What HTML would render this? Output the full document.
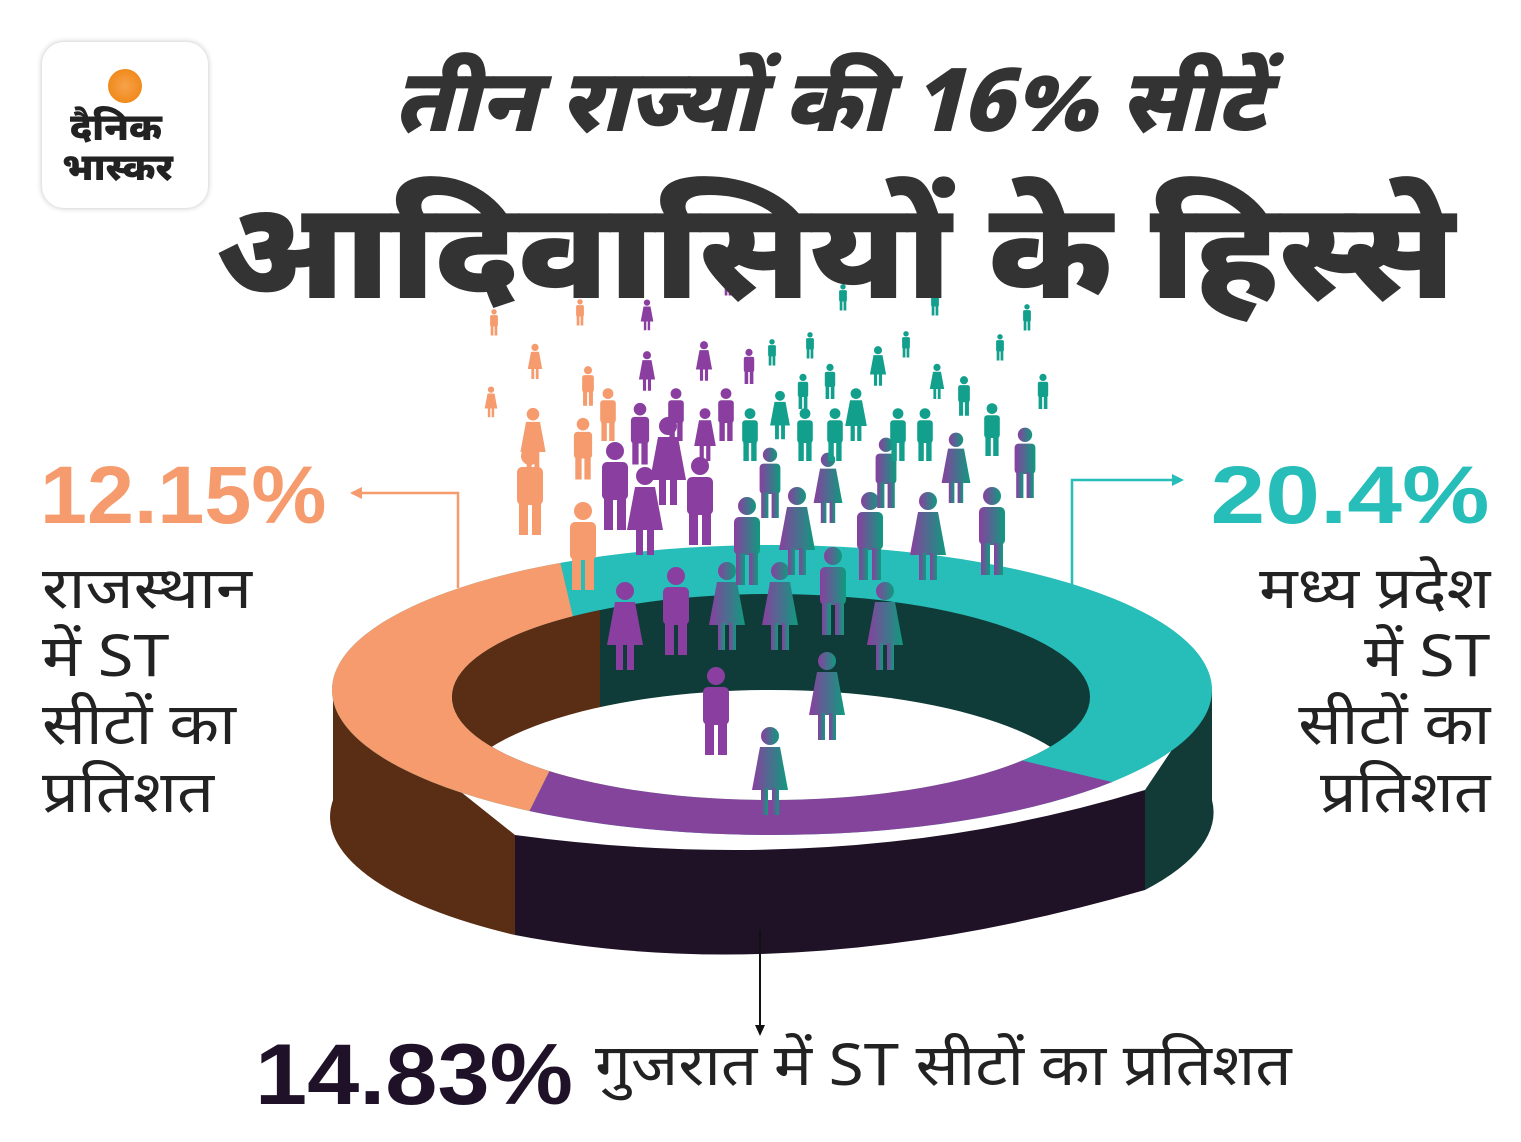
<!DOCTYPE html>
<html><head><meta charset="utf-8">
<style>
body{margin:0;width:1521px;height:1142px;background:#fff;position:relative;overflow:hidden;font-family:"Noto Sans Devanagari","Lohit Devanagari","Mukta","Liberation Sans","DejaVu Sans",sans-serif;}
.t{position:absolute;white-space:nowrap;line-height:1}
</style></head><body>
<div style="position:absolute;left:42px;top:42px;width:166px;height:166px;border-radius:22px;background:#fff;box-shadow:0 0 6px rgba(0,0,0,.25)"></div>
<svg style="position:absolute;left:0;top:0" width="1521" height="1142">
<defs>
<radialGradient id="sun"><stop offset="0" stop-color="#f7a24a"/><stop offset="1" stop-color="#f08a1c"/></radialGradient>
<clipPath id="hole"><ellipse cx="771" cy="697" rx="319" ry="103"/></clipPath>
<clipPath id="outer"><ellipse cx="772" cy="690" rx="440" ry="145"/></clipPath>
<linearGradient id="pg" x1="0" x2="1"><stop offset="0" stop-color="#8a3fa0"/><stop offset="1" stop-color="#0f9a7e"/></linearGradient>
<g id="m"><circle cx="0" cy="-44" r="9"/><rect x="-13" y="-33" width="26" height="38" rx="5"/><rect x="-11" y="3" width="9" height="32"/><rect x="2" y="3" width="9" height="32"/></g>
<g id="f"><circle cx="0" cy="-44" r="9"/><path d="M-10,-33 H10 L18,10 H-18 Z"/><rect x="-9" y="8" width="7" height="27"/><rect x="2" y="8" width="7" height="27"/></g>
</defs>
<circle cx="125" cy="86" r="17" fill="url(#sun)"/>
<g>
<path d="M333,690 L333,800 A440,145 0 0 0 515,935 L515,835 Z" fill="#5a2e14"/>
<path d="M515,835 L515,935 Q800,990 1145,890 L1145,790 Q850,880 515,835Z" fill="#1f1226"/>
<path d="M1145,790 L1145,890 A440,145 0 0 0 1212,800 L1212,690 Z" fill="#123a37"/>
</g>
<g clip-path="url(#outer)">
<rect x="330" y="540" width="890" height="300" fill="#27bdb8"/>
<path d="M330,540 L555,540 L590,690 L515,840 L330,840Z" fill="#f59b6e"/>
<path d="M515,840 L590,690 L770,700 L1145,790 L1220,840Z" fill="#85449b"/>
</g>
<ellipse cx="771" cy="697" rx="319" ry="103" fill="#0f3c38"/>
<path d="M452,697 A319,103 0 0 1 600,610 L600,800 L452,800Z" fill="#5a2e14" clip-path="url(#hole)"/>
<ellipse cx="771" cy="800" rx="319" ry="110" fill="#fff" clip-path="url(#hole)"/>
<g fill="#f59b6e">
<use href="#m" transform="translate(530,500)"/><use href="#f" transform="translate(533,445) scale(.7)"/><use href="#m" transform="translate(583,555)"/><use href="#m" transform="translate(583,455) scale(.7)"/><use href="#m" transform="translate(608,420) scale(.6)"/><use href="#m" transform="translate(588,390) scale(.45)"/><use href="#f" transform="translate(535,365) scale(.4)"/><use href="#f" transform="translate(491,405) scale(.35)"/><use href="#m" transform="translate(494,325) scale(.3)"/><use href="#m" transform="translate(580,315) scale(.3)"/>
</g>
<g fill="#8a3fa0">
<use href="#m" transform="translate(615,495)"/><use href="#f" transform="translate(645,520)"/><use href="#m" transform="translate(700,510)"/><use href="#f" transform="translate(625,635)"/><use href="#m" transform="translate(676,620)"/><use href="#m" transform="translate(716,720)"/><use href="#f" transform="translate(668,470)"/><use href="#m" transform="translate(640,440) scale(.7)"/><use href="#m" transform="translate(676,420) scale(.6)"/><use href="#f" transform="translate(705,440) scale(.6)"/><use href="#m" transform="translate(726,420) scale(.6)"/><use href="#f" transform="translate(647,375) scale(.45)"/><use href="#f" transform="translate(704,365) scale(.45)"/><use href="#m" transform="translate(749,370) scale(.4)"/><use href="#f" transform="translate(647,318) scale(.35)"/><use href="#m" transform="translate(728,285) scale(.3)"/>
</g>
<g fill="url(#pg)">
<use href="#f" transform="translate(727,615)"/><use href="#f" transform="translate(780,615)"/><use href="#m" transform="translate(833,600)"/><use href="#f" transform="translate(885,635)"/><use href="#f" transform="translate(827,705)"/><use href="#f" transform="translate(770,780)"/><use href="#m" transform="translate(747,550)"/><use href="#f" transform="translate(797,540)"/><use href="#m" transform="translate(870,545)"/><use href="#f" transform="translate(928,545)"/><use href="#m" transform="translate(992,540)"/><use href="#m" transform="translate(770,490) scale(.8)"/><use href="#f" transform="translate(828,495) scale(.8)"/><use href="#m" transform="translate(886,480) scale(.8)"/><use href="#f" transform="translate(956,475) scale(.8)"/><use href="#m" transform="translate(1025,470) scale(.8)"/>
</g>
<g fill="#12a08c">
<use href="#m" transform="translate(750,440) scale(.6)"/><use href="#f" transform="translate(780,420) scale(.55)"/><use href="#m" transform="translate(805,440) scale(.6)"/><use href="#m" transform="translate(835,440) scale(.6)"/><use href="#f" transform="translate(856,420) scale(.6)"/><use href="#m" transform="translate(898,440) scale(.6)"/><use href="#m" transform="translate(925,440) scale(.6)"/><use href="#m" transform="translate(992,435) scale(.6)"/><use href="#f" transform="translate(878,370) scale(.45)"/><use href="#m" transform="translate(830,385) scale(.4)"/><use href="#m" transform="translate(803,395) scale(.4)"/><use href="#f" transform="translate(937,385) scale(.4)"/><use href="#m" transform="translate(964,400) scale(.45)"/><use href="#m" transform="translate(1043,395) scale(.4)"/><use href="#m" transform="translate(772,355) scale(.3)"/><use href="#m" transform="translate(810,348) scale(.3)"/><use href="#m" transform="translate(906,347) scale(.3)"/><use href="#m" transform="translate(1000,350) scale(.3)"/><use href="#m" transform="translate(843,300) scale(.3)"/><use href="#m" transform="translate(935,305) scale(.3)"/><use href="#m" transform="translate(1027,320) scale(.3)"/>
</g>
<polyline points="458,588 458,493 352,493" fill="none" stroke="#f59b6e" stroke-width="2.5"/>
<path d="M350,493 l12,-6 v12z" fill="#f59b6e"/>
<polyline points="1072,585 1072,480 1180,480" fill="none" stroke="#27bdb8" stroke-width="2.5"/>
<path d="M1184,480 l-12,-6 v12z" fill="#27bdb8"/>
<line x1="760" y1="930" x2="760" y2="1030" stroke="#111" stroke-width="2"/>
<path d="M760,1036 l-5,-11 h10z" fill="#111"/>
</svg>
<div class="t" style="left:70px;top:112px;font-size:38px;font-weight:900;color:#222">दैनिक</div>
<div class="t" style="left:62px;top:152px;font-size:38px;font-weight:900;color:#222">भास्कर</div>
<div class="t" style="left:380px;top:66px;width:900px;font-size:88px;font-weight:900;font-style:italic;color:#333;text-align:center">तीन राज्यों की 16% सीटें</div>
<div class="t" style="left:215px;top:198px;width:1240px;font-size:136px;font-weight:900;color:#333;text-align:center;transform:scaleX(1.05)">आदिवासियों के हिस्से</div>
<div class="t" style="left:40px;top:455px;font-size:82px;font-weight:bold;color:#f59b6e;font-family:'Liberation Sans',sans-serif;transform:scaleX(1.03);transform-origin:left">12.15%</div>
<div class="t" style="left:42px;top:560px;font-size:58px;color:#222;line-height:68px;transform:scaleX(1.12);transform-origin:left">राजस्थान<br>में ST<br>सीटों का<br>प्रतिशत</div>
<div class="t" style="right:31px;top:455px;font-size:82px;font-weight:bold;color:#27bdb8;font-family:'Liberation Sans',sans-serif;transform:scaleX(1.2);transform-origin:right">20.4%</div>
<div class="t" style="right:31px;top:560px;font-size:58px;color:#222;line-height:68px;text-align:right;transform:scaleX(1.11);transform-origin:right">मध्य प्रदेश<br>में ST<br>सीटों का<br>प्रतिशत</div>
<div class="t" style="left:255px;top:1032px;font-size:86px;font-weight:900;color:#1f1228;font-family:'Liberation Sans',sans-serif;transform:scaleX(1.09);transform-origin:left">14.83%</div>
<div class="t" style="left:595px;top:1042px;font-size:58px;color:#222;transform:scaleX(1.1);transform-origin:left">गुजरात में ST सीटों का प्रतिशत</div>
</body></html>
